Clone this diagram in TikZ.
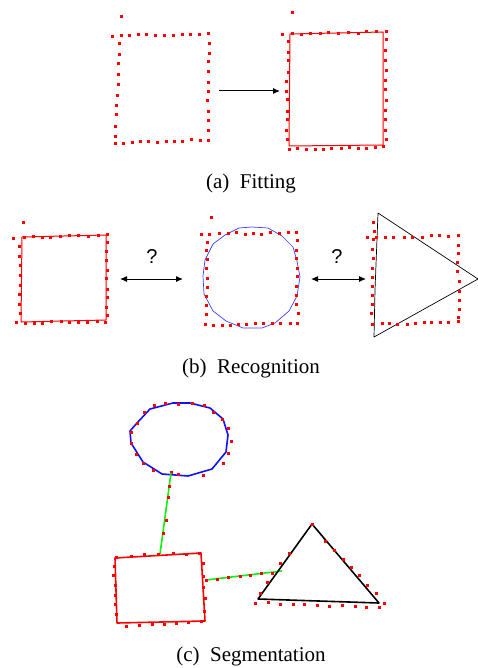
\documentclass[tikz,border=0pt]{standalone}
\usepackage{fontspec}
\setmainfont{Liberation Serif}
\newfontfamily\qfont{Liberation Sans}
\usetikzlibrary{calc,arrows.meta}
\definecolor{PtRed}{HTML}{FF0000}
\definecolor{FitBlue}{HTML}{1010FF}
\definecolor{SegGreen}{HTML}{10F010}

% one sample point of the stroke
\newcommand\pix[1]{\fill[PtRed] #1 ++(-1.5,-1.5) rectangle ++(3,3);}
% a row of sample points from #1 to #2, #3 gaps
\newcommand\dotrow[3]{%
  \foreach \k in {0,...,#3}{
    \pgfmathsetmacro\jx{0.9*rand}\pgfmathsetmacro\jy{0.9*rand}
    \fill[PtRed] ($#1!\k/#3!#2$) ++(\jx-1.5,\jy-1.5) rectangle ++(3,3);
  }}

\begin{document}
\begin{tikzpicture}[x=0.5pt,y=-0.5pt,
  fitline/.style={PtRed,line width=0.5pt,line join=round},
  thinline/.style={line width=0.35pt,line join=round},
  segline/.style={line width=0.8pt,line join=round},
  arr/.style={line width=0.5pt,-{Latex[length=3.5pt,width=3pt]}},
  darr/.style={line width=0.5pt,{Latex[length=3.5pt,width=3pt]}-{Latex[length=3.5pt,width=3pt]}},
  captxt/.style={font=\fontsize{10.5}{12}\selectfont,inner sep=1pt},
  qm/.style={font=\qfont\fontsize{10}{12}\selectfont,inner sep=1pt}]
  \useasboundingbox (0,0) rectangle (477,668);
  \pgfmathsetseed{11}

  % (a) fitting
  \dotrow{(112,36)}{(208,34)}{11}
  \dotrow{(119,44)}{(116,136)}{9}
  \dotrow{(115,143)}{(208,140)}{11}
  \dotrow{(209,43)}{(208,130)}{9}
  \pix{(121,17)}
  \coordinate (fitL) at (219,91);
  \coordinate (fitR) at (280,91);
  \draw[arr] (fitL) -- (fitR);
  \draw[fitline] (290,34) -- (383,32) -- (383,145) -- (289,146) -- cycle;
  \dotrow{(282,35)}{(386,32)}{11}
  \dotrow{(288,42)}{(287,140)}{10}
  \dotrow{(386,40)}{(386,140)}{10}
  \dotrow{(289,150)}{(384,147)}{11}
  \pix{(292,13)}
  \node[captxt] (capA) at (251,183) {(a)\hspace{0.5em}Fitting};

  % (b) recognition
  \draw[fitline] (22,237) -- (106,235) -- (106,320) -- (21,322) -- cycle;
  \dotrow{(14,238)}{(107,235)}{10}
  \dotrow{(20,246)}{(20,314)}{7}
  \dotrow{(107,243)}{(107,316)}{8}
  \dotrow{(17,323)}{(105,322)}{10}
  \pix{(23,222)}
  \coordinate (recL) at (120,279);
  \coordinate (recM) at (183,279);
  \draw[darr] (recL) -- (recM);
  \node[qm] (q1) at (152,257) {?};
  \draw[thinline,FitBlue!80] (252,227) -- (268,228) -- (282,236) -- (293,247) -- (297,261)
    -- (300,277) -- (297,296) -- (289,311) -- (275,323) -- (262,328) -- (243,328)
    -- (226,321) -- (213,311) -- (204,294) -- (203,276) -- (205,260) -- (213,244)
    -- (225,235) -- (239,228) -- cycle;
  \dotrow{(202,234)}{(297,233)}{11}
  \dotrow{(207,242)}{(207,314)}{8}
  \dotrow{(297,241)}{(298,323)}{9}
  \dotrow{(205,325)}{(290,323)}{10}
  \pix{(211,217)}
  \coordinate (recN) at (311,279);
  \coordinate (recR) at (366,279);
  \draw[darr] (recN) -- (recR);
  \node[qm] (q2) at (337,257) {?};
  \draw[thinline] (378,213) -- (478,279) -- (374,337) -- (375,290) -- cycle;
  \dotrow{(367,238)}{(458,236)}{10}
  \dotrow{(374,222)}{(372,314)}{10}
  \dotrow{(458,245)}{(459,318)}{8}
  \dotrow{(373,325)}{(458,322)}{10}
  \node[captxt] (capB) at (251,368) {(b)\hspace{0.5em}Recognition};

  % (c) segmentation
  \draw[segline,FitBlue] (137,423) -- (150,409) -- (173,403) -- (190,403) -- (210,408)
    -- (223,419) -- (228,435) -- (226,452) -- (212,469) -- (188,476) -- (162,474)
    -- (143,462) -- (131,443) -- (130,431) -- cycle;
  \foreach \p in {(144,412),(154,405),(165,403),(178,404),(192,403),(204,405),(213,412),
    (222,419),(228,428),(231,441),(228,453),(223,463),(203,475),(178,474),(171,472),
    (153,470),(143,463),(136,454),(131,443),(131,432),(137,423)}{\pix{\p}}
  \draw[segline,SegGreen] (171,473) -- (160,554);
  \foreach \p in {(169,486),(168,497),(166,520),(163,533)}{\pix{\p}}
  \draw[segline,PtRed] (115,558) -- (201,553) -- (205,621) -- (117,623) -- cycle;
  \dotrow{(117,557)}{(200,553)}{6}
  \dotrow{(114,566)}{(116,614)}{5}
  \dotrow{(204,563)}{(205,612)}{4}
  \dotrow{(127,626)}{(202,622)}{6}
  \draw[segline,SegGreen] (206,580) -- (282,571);
  \dotrow{(206,581)}{(273,573)}{6}
  \draw[segline] (312,524) -- (379,603) -- (258,599) -- cycle;
  \pix{(312,524)}
  \foreach \p in {(289,553),(280,563),(267,582),(260,593)}{\pix{\p}}
  \dotrow{(326,542)}{(377,593)}{6}
  \pix{(384,603)} \pix{(379,607)}
  \dotrow{(256,603)}{(367,607)}{9}
  \node[captxt] (capC) at (251,656) {(c)\hspace{0.5em}Segmentation};
\end{tikzpicture}
\end{document}
